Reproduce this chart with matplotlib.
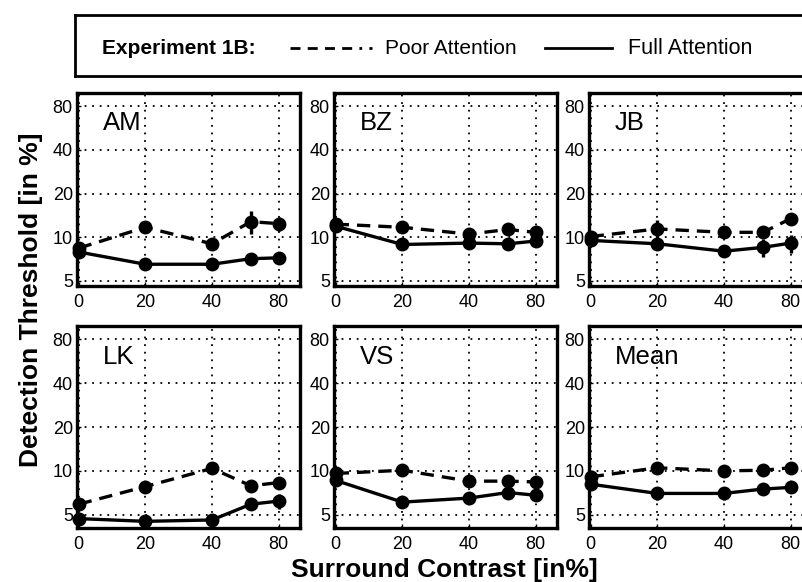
import numpy as np
import matplotlib
matplotlib.use("Agg")
from matplotlib import pyplot as plt

plt.rcParams['font.family'] = ['Liberation Sans', 'DejaVu Sans']

contrast = [0, 20, 40, 60, 80]
xticks = [0, 20, 40, 80]
yticks = [5, 10, 20, 40, 80]

panels = ["AM", "BZ", "JB", "LK", "VS", "Mean"]

poor = {
    "AM": [8.4, 11.7, 9.0, 12.8, 12.4],
    "BZ": [12.3, 11.7, 10.5, 11.3, 10.8],
    "JB": [10.1, 11.4, 10.8, 10.8, 13.4],
    "LK": [5.9, 7.8, 10.4, 7.9, 8.3],
    "VS": [9.6, 10.1, 8.5, 8.5, 8.4],
    "Mean": [9.1, 10.5, 10.0, 10.1, 10.5],
}
full = {
    "AM": [7.9, 6.5, 6.5, 7.1, 7.2],
    "BZ": [11.9, 8.9, 9.1, 9.0, 9.4],
    "JB": [9.5, 9.0, 8.0, 8.5, 9.1],
    "LK": [4.7, 4.5, 4.6, 5.9, 6.2],
    "VS": [8.6, 6.1, 6.5, 7.1, 6.8],
    "Mean": [8.1, 7.0, 7.0, 7.5, 7.7],
}
poor_err = {
    "AM": [0.3, 0.6, 0.5, 2.3, 1.3],
    "BZ": [0.4, 0.8, 0.4, 1.0, 0.5],
    "JB": [0.3, 1.8, 0.4, 0.8, 0.4],
    "LK": [0.2, 0.3, 0.4, 0.3, 0.4],
    "VS": [0.3, 0.5, 0.4, 0.4, 0.3],
    "Mean": [0.4, 0.5, 0.3, 0.5, 0.6],
}
full_err = {
    "AM": [0.2, 0.2, 0.2, 0.2, 0.2],
    "BZ": [0.3, 0.3, 0.5, 0.5, 0.4],
    "JB": [0.3, 0.6, 0.3, 1.2, 1.3],
    "LK": [0.2, 0.2, 0.2, 0.4, 0.7],
    "VS": [0.3, 0.3, 0.3, 0.4, 0.3],
    "Mean": [0.3, 0.7, 0.7, 0.4, 0.4],
}


# x axis: linear from 0 to 20, then log2 (0, 20, 40, 80 evenly spaced)
def fwd(x):
    x = np.asarray(x, dtype=float)
    return np.where(x <= 20, x / 20.0, np.log2(np.maximum(x, 20) / 10.0))


def inv(y):
    y = np.asarray(y, dtype=float)
    return np.where(y <= 1, y * 20.0, 10.0 * 2.0 ** np.minimum(y, 30))


W, H = 802, 582
fig = plt.figure(figsize=(W / 100, H / 100), dpi=100)

col_left = [77, 334, 589]
ax_w = 223
rows = [(93, 286, 4.6), (326, 528, 4.05)]

dash = (0, (4, 2.4))

for i, name in enumerate(panels):
    r, c = divmod(i, 3)
    top, bot, ymin = rows[r]
    ax = fig.add_axes([col_left[c] / W, 1 - bot / H, ax_w / W, (bot - top) / H])
    ax.set_xscale('function', functions=(fwd, inv))
    ax.set_yscale('log')
    ax.set_xlim(-0.5, 100)
    ax.set_ylim(ymin, 99)
    ax.set_xticks(xticks)
    ax.set_xticklabels([str(t) for t in xticks])
    ax.set_yticks(yticks)
    ax.set_yticklabels([str(t) for t in yticks])
    ax.minorticks_off()
    ax.tick_params(direction='in', length=3, width=1, labelsize=13, pad=3)
    ax.tick_params(axis='x', pad=6)
    ax.grid(True, color='black', linestyle=(0, (1, 3.2)), linewidth=1.3)
    for s in ax.spines.values():
        s.set_linewidth(2.4)

    ax.errorbar(contrast, poor[name], yerr=poor_err[name], color='black',
                linestyle=dash, linewidth=2.4, marker='o', markersize=9,
                elinewidth=2.4, capsize=0, clip_on=False, zorder=3)
    ax.errorbar(contrast, full[name], yerr=full_err[name], color='black',
                linestyle='-', linewidth=2.4, marker='o', markersize=9,
                elinewidth=2.4, capsize=0, clip_on=False, zorder=4)
    ax.text(0.115, 0.905, name, transform=ax.transAxes, fontsize=18.5,
            ha='left', va='top')

fig.text(31 / W, 1 - 300 / H, "Detection Threshold [in %]", rotation=90,
         fontsize=19, fontweight='bold', ha='center', va='center')
fig.text(444 / W, 1 - 570 / H, "Surround Contrast [in%]",
         fontsize=19, fontweight='bold', ha='center', va='center')

# legend box
lg = fig.add_axes([75 / W, 1 - 76 / H, (840 - 75) / W, 61 / H])
lg.set_xlim(75, 840)
lg.set_ylim(76, 15)
lg.set_xticks([])
lg.set_yticks([])
for s in lg.spines.values():
    s.set_linewidth(2.0)
lg.text(102, 48, "Experiment 1B:", fontsize=15, fontweight='bold',
        ha='left', va='center')
lg.plot([290, 372], [48, 48], color='black', linewidth=2,
        linestyle=(0, (3.6, 2.6, 3.6, 2.6, 3.6, 2.6, 3.6, 2.6, 1, 2.6)))
lg.text(385, 48, "Poor Attention", fontsize=15, ha='left', va='center')
lg.plot([545, 612], [48, 48], color='black', linestyle='-', linewidth=2)
lg.text(628, 48, "Full Attention", fontsize=15.5, ha='left', va='center')

fig.savefig("out.png", dpi=100)
